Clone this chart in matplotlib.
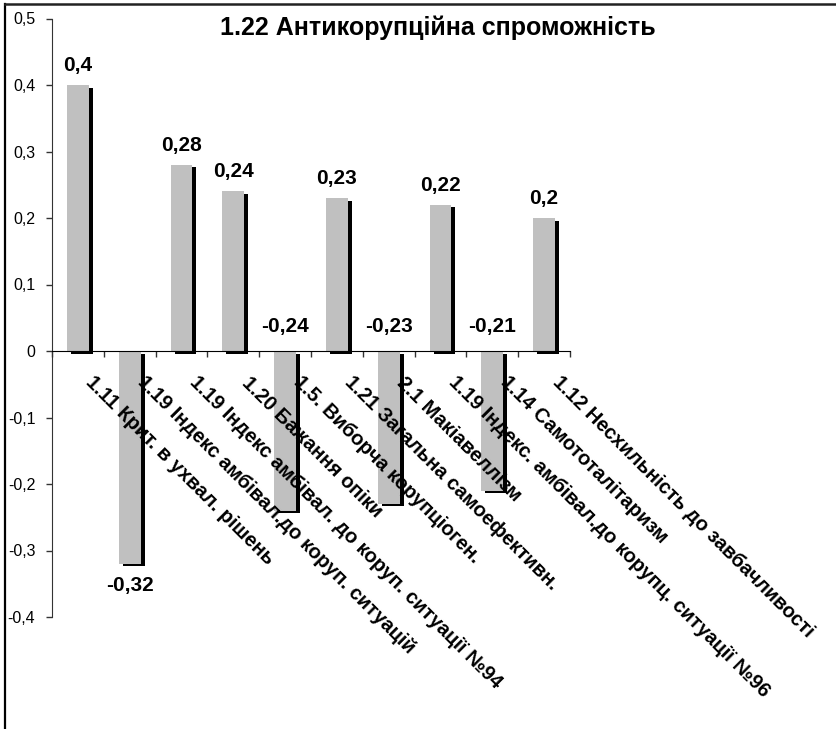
import numpy as np
import matplotlib.pyplot as plt
import matplotlib.transforms as mtransforms
from matplotlib.lines import Line2D

# шрифт, схожий на Arial
plt.rcParams['font.family'] = ['Liberation Sans', 'DejaVu Sans']

title = '1.22 Антикорупційна спроможність'
categories = [
    '1.11 Крит. в ухвал. рішень',
    '1.19 Індекс амбівал.до коруп. ситуацій',
    '1.19 Індекс амбівал. до коруп. ситуації №94',
    '1.20 Бажання опіки',
    '1.5. Виборча корупціоген.',
    '1.21 Загальна самоефективн.',
    '2.1 Макіавеллізм',
    '1.19 Індекс. амбівал.до корупц. ситуації №96',
    '1.14 Самототалітаризм',
    '1.12 Несхильність до завбачливості',
]
values = [0.4, -0.32, 0.28, 0.24, -0.24, 0.23, -0.23, 0.22, -0.21, 0.2]
yticks = [-0.4, -0.3, -0.2, -0.1, 0, 0.1, 0.2, 0.3, 0.4, 0.5]

W, H = 837, 729
fig = plt.figure(figsize=(W / 100, H / 100), dpi=100)
ax = fig.add_axes([52 / W, 1 - 617 / H, (570 - 52) / W, (617 - 18.5) / H])

x = np.arange(len(values))
bw = 0.42
px = 1 / 51.8  # один піксель у одиницях осі x

# тінь стовпчиків (зсув вправо-вниз)
shadow = ax.transData + mtransforms.ScaledTranslation(4 / 100, -2.5 / 100, fig.dpi_scale_trans)
down = ax.transData + mtransforms.ScaledTranslation(0, -2.5 / 100, fig.dpi_scale_trans)
ax.bar(x, values, width=bw, color='black', transform=shadow, zorder=2)
ax.bar(x, values, width=bw, color='#c0c0c0', zorder=3)
# права смуга тіні поверх підписів
ax.bar(x + bw / 2, values, width=4 * px, align='edge', color='black', transform=down, zorder=5)

ax.set_xlim(-0.5, len(values) - 0.5)
ax.set_ylim(-0.4, 0.5)
ax.set_yticks(yticks)
ax.set_yticklabels([('%g' % t).replace('.', ',') for t in yticks], fontsize=11.5)
ax.tick_params(axis='y', direction='out', length=4, width=1, pad=8, color='#333333')

ax.spines['top'].set_visible(False)
ax.spines['right'].set_visible(False)
ax.spines['bottom'].set_position(('data', 0))
ax.spines['bottom'].set_zorder(6)
ax.spines['left'].set_color('#333333')
ax.set_xticks(np.arange(len(values) + 1) - 0.5)
ax.set_xticklabels([])
ax.tick_params(axis='x', direction='out', length=4, width=1, color='#333333')

# значення над/під стовпчиками
for i, v in enumerate(values):
    lab = ('%g' % v).replace('.', ',')
    if v > 0:
        tr = mtransforms.offset_copy(ax.transData, fig=fig, x=0, y=14, units='dots')
        ax.text(i, v, lab, transform=tr, ha='center', va='baseline',
                fontsize=15, fontweight='bold', zorder=7)
    elif v < -0.25:
        tr = mtransforms.offset_copy(ax.transData, fig=fig, x=0, y=-12, units='dots')
        ax.text(i, v, lab, transform=tr, ha='center', va='top',
                fontsize=15, fontweight='bold', zorder=7)
    else:
        tr = mtransforms.offset_copy(ax.transData, fig=fig, x=0, y=19, units='dots')
        ax.text(i, 0, lab, transform=tr, ha='center', va='baseline',
                fontsize=15, fontweight='bold', zorder=7)

# підписи категорій під кутом
lab_tr = mtransforms.offset_copy(ax.transData, fig=fig, x=18, y=-22, units='dots')
for i, c in enumerate(categories):
    ax.text(i, 0, c, transform=lab_tr, rotation=-45, rotation_mode='anchor',
            ha='left', va='top', fontsize=14.5, fontweight='bold', zorder=4)

fig.text(438 / W, 1 - 28 / H, title, ha='center', va='center',
         fontsize=18, fontweight='bold')

# рамка
fig.add_artist(Line2D([5 / W, 5 / W], [0, 1 - 3.5 / H], color='black', lw=1.6))
fig.add_artist(Line2D([5 / W, 1], [1 - 3.5 / H, 1 - 3.5 / H], color='#222222', lw=1.8))

fig.savefig('out.png', dpi=100)
